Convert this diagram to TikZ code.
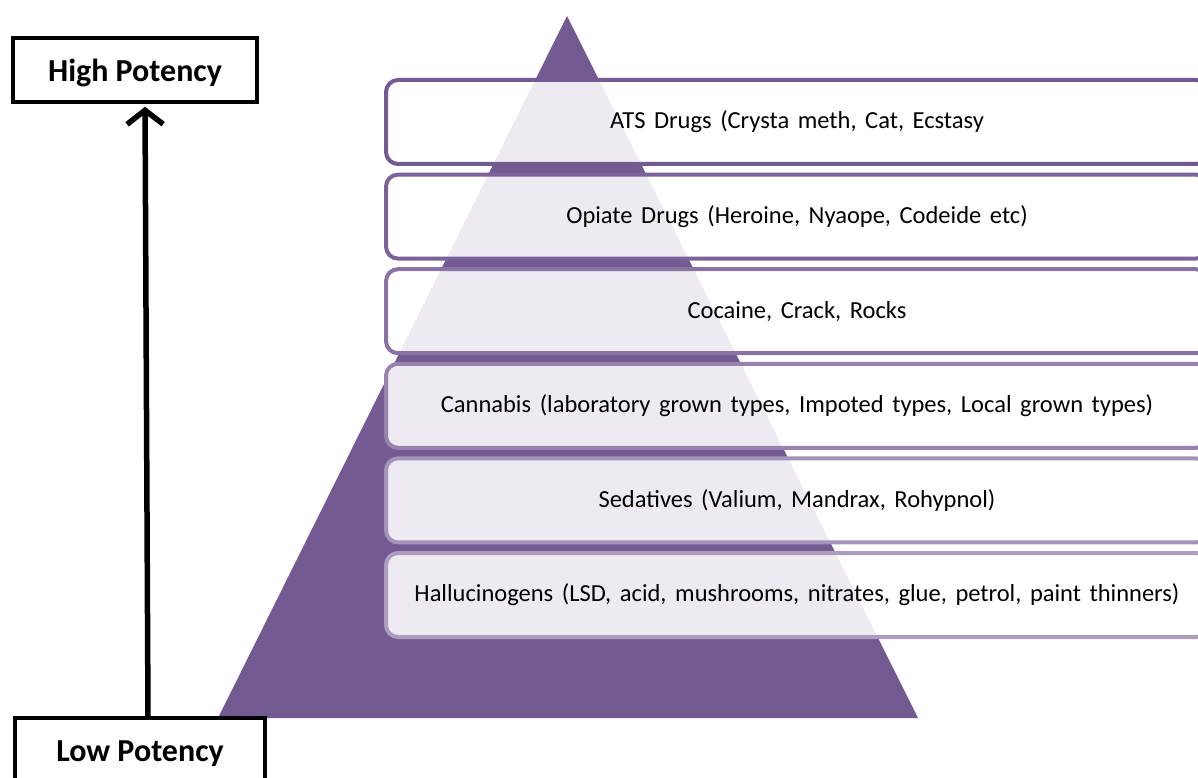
\documentclass[tikz,border=0pt]{standalone}
\usepackage{fontspec}
\setmainfont{Carlito}
\usetikzlibrary{arrows.meta}
\definecolor{pyramid}{RGB}{116,90,147}
\newcommand\levelfont{\fontsize{24.5}{28}\selectfont\spaceskip=0.35em\relax}

\begin{document}
\begin{tikzpicture}[x=1pt, y=-1pt,
    level/.style={rounded corners=12pt, line width=4pt, fill=white, fill opacity=0.88, text opacity=1,
        minimum width=822pt, minimum height=84pt, font=\levelfont},
    potency/.style={draw, line width=3.5pt, text depth=0pt, font=\bfseries\fontsize{32}{36}\selectfont}]
\useasboundingbox (0,0) rectangle (1198,778);

% Pyramid behind the levels
\fill[pyramid] (567,16) -- (918,718) -- (218,718) -- cycle;

% Define a variable for spacing
\def\spacing{94.6}

% Levels (6 boxes)
\foreach \i/\shade/\txt in {1/100/{ATS Drugs (Crysta meth, Cat, Ecstasy},
                            2/95/{Opiate Drugs (Heroine, Nyaope, Codeide etc)},
                            3/85/{Cocaine, Crack, Rocks},
                            4/75/{Cannabis (laboratory grown types, Impoted types, Local grown types)},
                            5/65/{Sedatives (Valium, Mandrax, Rohypnol)},
                            6/60/{Hallucinogens (LSD, acid, mushrooms, nitrates, glue, petrol, paint thinners)}} {
    \node[level, draw=pyramid!\shade] (level\i) at (797, {122 + \spacing*(\i-1)}) {\txt};
}

% Potency boxes
\node[potency, minimum width=244pt, minimum height=64pt] (high) at (135,70) {High Potency};
\node[potency, minimum width=250pt, minimum height=66pt] (low) at (140,751) {Low Potency};

% Arrow from low to high
\draw[line width=5.5pt, -{Straight Barb[length=14pt, width=36pt]}, shorten >=3pt] ([xshift=8pt]low.north) -- ([xshift=10pt]high.south);

\end{tikzpicture}
\end{document}
